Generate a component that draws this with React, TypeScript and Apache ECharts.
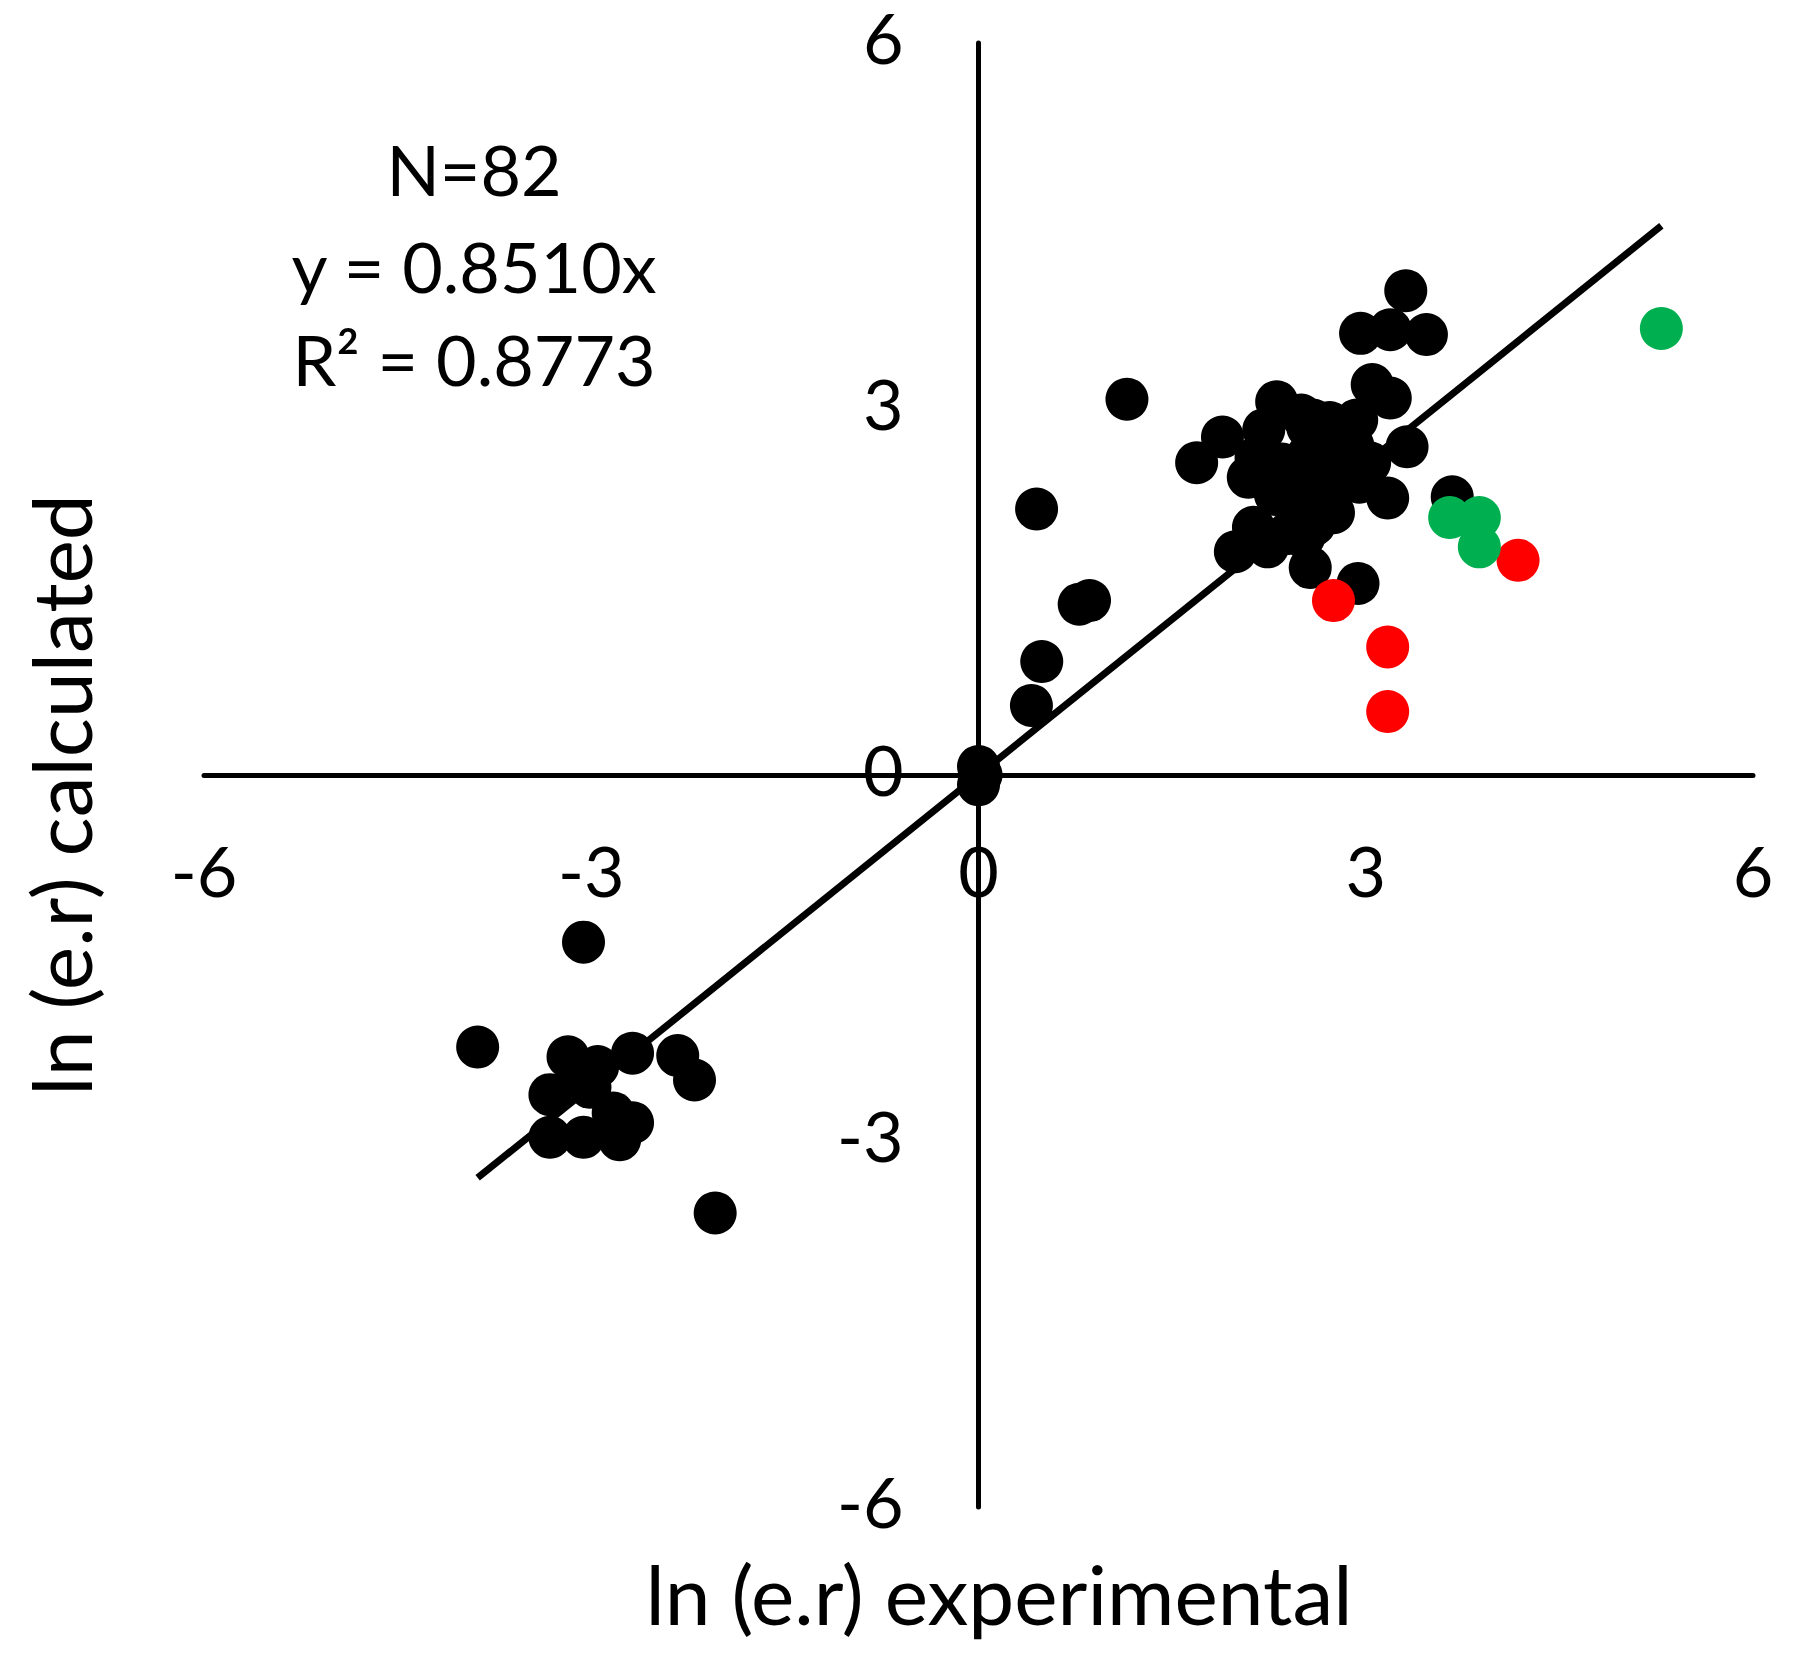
import React, { useEffect, useRef } from "react";
import * as echarts from "echarts";

// ln(e.r) experimental vs calculated
const blackPoints: [number, number][] = [
  [-3.88, -2.23], [-3.06, -1.37], [-3.18, -2.31], [-2.95, -2.39], [-2.68, -2.28],
  [-2.33, -2.30], [-2.20, -2.50], [-3.32, -2.62], [-3.01, -2.56], [-3.32, -2.97],
  [-3.06, -2.97], [-2.78, -2.99], [-2.68, -2.85], [-2.83, -2.77], [-2.04, -3.59],
  [-3.10, -2.45],
  [0.0, 0.07], [0.02, 0.0], [0.0, -0.08],
  [0.41, 0.57], [0.49, 0.93], [0.78, 1.40], [0.86, 1.43], [0.45, 2.18], [1.15, 3.08],
  [3.31, 3.97], [2.96, 3.62], [3.19, 3.65], [3.47, 3.61], [3.05, 3.20], [3.19, 3.09],
  [3.32, 2.69], [3.17, 2.27], [3.67, 2.28], [2.94, 1.57], [2.57, 1.70],
  [2.31, 3.06], [1.89, 2.77], [1.69, 2.56], [2.09, 2.44], [2.13, 2.03], [1.99, 1.83],
  [2.24, 1.87], [2.52, 1.95], [2.75, 2.15], [2.72, 2.89], [2.93, 2.91], [2.59, 2.91],
  [3.03, 2.56], [2.21, 2.83],
  [2.55, 2.62], [2.50, 2.55], [2.60, 2.75], [2.70, 2.60], [2.80, 2.75], [2.45, 2.40],
  [2.55, 2.25], [2.65, 2.45], [2.35, 2.55], [2.85, 2.50], [2.30, 2.30], [2.50, 2.05],
  [2.60, 2.05], [2.90, 2.70], [2.75, 2.35], [2.15, 2.60], [2.55, 2.85], [2.40, 1.98],
  [2.95, 2.40], [2.25, 2.45], [2.68, 2.68], [2.85, 2.85], [2.50, 2.95], [2.55, 2.15],
];
const redPoints: [number, number][] = [
  [2.75, 1.43], [3.17, 1.05], [3.17, 0.52], [4.18, 1.76],
];
const greenPoints: [number, number][] = [
  [3.65, 2.11], [3.88, 2.11], [3.88, 1.87], [5.29, 3.66],
];
const trendSlope = 0.851;
const axisMin = -6;
const axisMax = 6;
const axisInterval = 3;
const annotationLines = ["N=82", "y = 0.8510x", "R\u00B2 = 0.8773"];
const xTitle = "ln (e.r) experimental";
const yTitle = "ln (e.r) calculated";

const FONT = "Lato";

const GRID_LEFT = 204;
const GRID_RIGHT = 47;
const GRID_TOP = 43;
const GRID_BOTTOM = 149;
const W = 1800;
const H = 1656;

export default function App() {
  const ref = useRef<HTMLDivElement>(null);
  useEffect(() => {
    if (!ref.current) return;
    const chart = echarts.init(ref.current, null, { renderer: "svg" });
    const allX = [...blackPoints, ...redPoints, ...greenPoints].map((p) => p[0]);
    const xLo = Math.min(...allX);
    const xHi = Math.max(...allX);
    const trend = [
      [xLo, trendSlope * xLo],
      [xHi, trendSlope * xHi],
    ];
    const plotW = W - GRID_LEFT - GRID_RIGHT;
    const plotH = H - GRID_TOP - GRID_BOTTOM;
    // shift the axes (line + labels) to cross at zero
    const xAxisOffset = -plotH * ((0 - axisMin) / (axisMax - axisMin));
    const yAxisOffset = -plotW * ((0 - axisMin) / (axisMax - axisMin));
    chart.setOption({
      animation: false,
      backgroundColor: "#ffffff",
      grid: { left: GRID_LEFT, right: GRID_RIGHT, top: GRID_TOP, bottom: GRID_BOTTOM, containLabel: false },
      xAxis: {
        type: "value",
        position: "bottom",
        offset: xAxisOffset,
        min: axisMin,
        max: axisMax,
        interval: axisInterval,
        axisLine: { onZero: false, lineStyle: { color: "#000", width: 5 } },
        axisTick: { show: false },
        splitLine: { show: false },
        axisLabel: {
          margin: 60,
          color: "#000",
          fontFamily: FONT,
          fontSize: 70,
        },
      },
      yAxis: {
        type: "value",
        position: "left",
        offset: yAxisOffset,
        min: axisMin,
        max: axisMax,
        interval: axisInterval,
        axisLine: { onZero: false, lineStyle: { color: "#000", width: 5 } },
        axisTick: { show: false },
        splitLine: { show: false },
        axisLabel: {
          margin: 75,
          color: "#000",
          fontFamily: FONT,
          fontSize: 70,
          formatter: "{v|{value}}",
          rich: {
            v: {
              fontFamily: FONT,
              fontSize: 70,
              lineHeight: 58,
              color: "#000",
              padding: [0, 0, 12, 0],
            },
          },
        },
      },
      graphic: [
        ...annotationLines.map((t, i) => ({
          type: "text",
          x: 474,
          y: [169, 266, 359][i],
          style: {
            text: t,
            fontFamily: FONT,
            fontSize: 70,
            fill: "#000",
            align: "center",
            verticalAlign: "middle",
          },
        })),
        {
          type: "text",
          x: 999,
          y: 1593,
          style: {
            text: xTitle,
            fontFamily: FONT,
            fontSize: 82,
            fill: "#000",
            align: "center",
            verticalAlign: "middle",
          },
        },
        {
          type: "text",
          x: 60,
          y: 795,
          rotation: Math.PI / 2,
          style: {
            text: yTitle,
            fontFamily: FONT,
            fontSize: 82,
            fill: "#000",
            align: "center",
            verticalAlign: "middle",
          },
        },
      ],
      series: [
        {
          type: "line",
          data: trend,
          symbol: "none",
          lineStyle: { color: "#000", width: 7 },
          z: 1,
          silent: true,
        },
        {
          type: "scatter",
          data: blackPoints,
          symbolSize: 43,
          itemStyle: { color: "#000000", opacity: 1 },
          z: 2,
        },
        {
          type: "scatter",
          data: redPoints,
          symbolSize: 43,
          itemStyle: { color: "#FF0000", opacity: 1 },
          z: 3,
        },
        {
          type: "scatter",
          data: greenPoints,
          symbolSize: 43,
          itemStyle: { color: "#00B050", opacity: 1 },
          z: 3,
        },
      ],
    });
    return () => chart.dispose();
  }, []);
  return (
    <div
      ref={ref}
      style={{ position: "fixed", left: 0, top: 0, width: W, height: H, background: "#fff" }}
    />
  );
}
